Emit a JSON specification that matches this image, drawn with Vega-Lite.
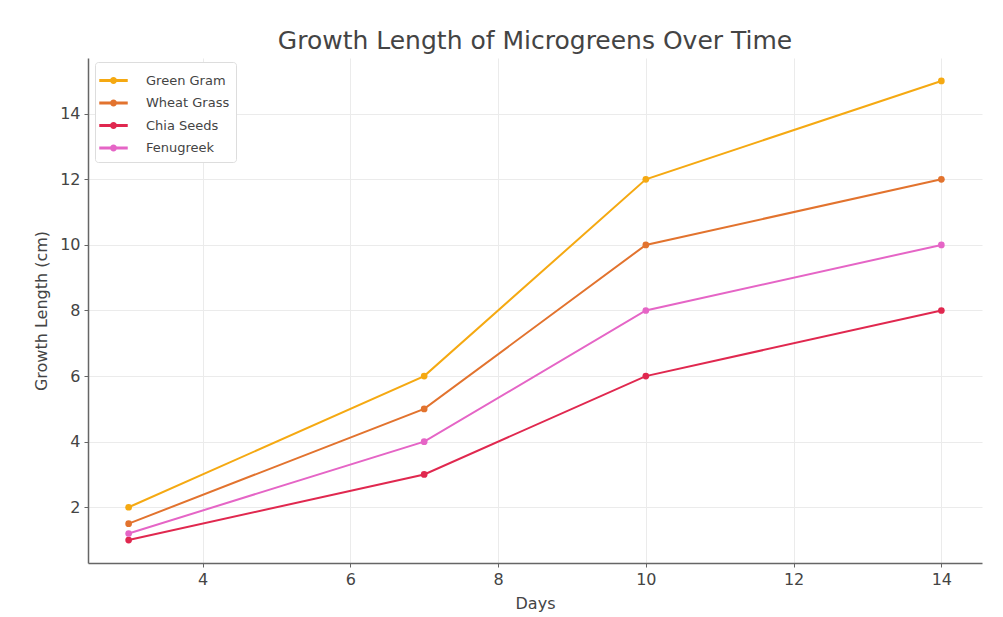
{
  "$schema": "https://vega.github.io/schema/vega-lite/v6.json",
  "width": 894,
  "height": 505,
  "autosize": {"type": "none"},
  "padding": {"left": 88, "top": 58, "right": 21, "bottom": 54},
  "background": "white",
  "title": {"text": "Growth Length of Microgreens Over Time", "font": "DejaVu Sans", "fontSize": 25, "fontWeight": "normal", "color": "#444444", "offset": 4},
  "data": {"values": [
    {"variety": "Green Gram", "day": 3, "length": 2},
    {"variety": "Green Gram", "day": 7, "length": 6},
    {"variety": "Green Gram", "day": 10, "length": 12},
    {"variety": "Green Gram", "day": 14, "length": 15},
    {"variety": "Wheat Grass", "day": 3, "length": 1.5},
    {"variety": "Wheat Grass", "day": 7, "length": 5},
    {"variety": "Wheat Grass", "day": 10, "length": 10},
    {"variety": "Wheat Grass", "day": 14, "length": 12},
    {"variety": "Chia Seeds", "day": 3, "length": 1},
    {"variety": "Chia Seeds", "day": 7, "length": 3},
    {"variety": "Chia Seeds", "day": 10, "length": 6},
    {"variety": "Chia Seeds", "day": 14, "length": 8},
    {"variety": "Fenugreek", "day": 3, "length": 1.2},
    {"variety": "Fenugreek", "day": 7, "length": 4},
    {"variety": "Fenugreek", "day": 10, "length": 8},
    {"variety": "Fenugreek", "day": 14, "length": 10}
  ]},
  "mark": {"type": "line", "strokeWidth": 2, "point": {"filled": true, "size": 45}},
  "encoding": {
    "x": {"field": "day", "type": "quantitative", "title": "Days",
      "scale": {"domain": [2.45, 14.55], "nice": false, "zero": false},
      "axis": {"values": [4, 6, 8, 10, 12, 14], "format": "d", "titlePadding": 8}},
    "y": {"field": "length", "type": "quantitative", "title": "Growth Length (cm)",
      "scale": {"domain": [0.3, 15.7], "nice": false, "zero": false},
      "axis": {"values": [2, 4, 6, 8, 10, 12, 14], "format": "d", "titlePadding": 10}},
    "color": {"field": "variety", "type": "nominal", "title": null,
      "sort": ["Green Gram", "Wheat Grass", "Chia Seeds", "Fenugreek"],
      "scale": {"domain": ["Green Gram", "Wheat Grass", "Chia Seeds", "Fenugreek"], "range": ["#f5a912", "#e2732e", "#e0284f", "#e565c6"]},
      "legend": {"orient": "none", "legendX": 7, "legendY": 4, "direction": "vertical",
        "symbolType": "M-1.3,0H1.3M-0.18,0A0.18,0.18 0 1,1 0.18,0A0.18,0.18 0 1,1 -0.18,0",
        "symbolSize": 480, "symbolStrokeWidth": 3, "rowPadding": 1.5,
        "labelFont": "DejaVu Sans", "labelFontSize": 13, "labelColor": "#444444", "labelOffset": 20,
        "strokeColor": "#dddddd", "cornerRadius": 3, "padding": 6, "fillColor": "white"}}
  },
  "config": {
    "view": {"stroke": null},
    "axis": {"labelFont": "DejaVu Sans", "labelFontSize": 16, "labelColor": "#444444",
      "titleFont": "DejaVu Sans", "titleFontSize": 16, "titleFontWeight": "normal", "titleColor": "#444444",
      "domainColor": "#666666", "domainWidth": 1.5, "tickColor": "#666666", "tickSize": 4,
      "gridColor": "#ebebeb", "gridWidth": 1, "labelPadding": 4}
  }
}
